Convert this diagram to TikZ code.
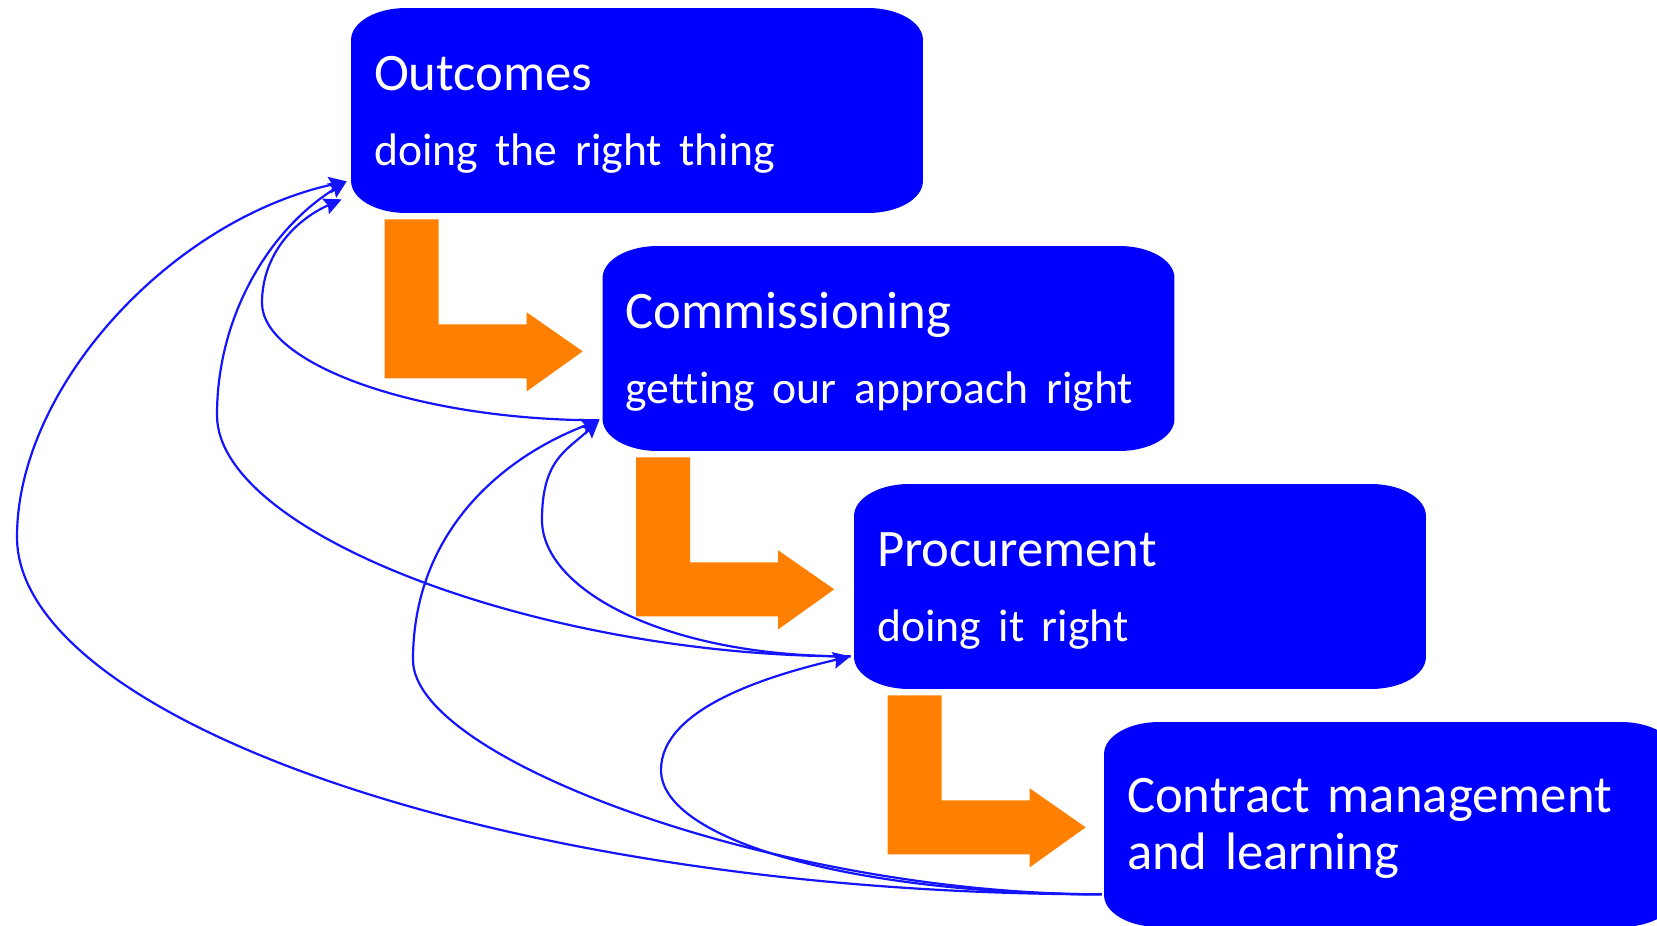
\documentclass[tikz,border=0pt]{standalone}
\usepackage{fontspec}
\setmainfont{Carlito}[Ligatures=NoCommon]
\usetikzlibrary{arrows.meta}
\definecolor{boxblue}{RGB}{0,0,255}
\definecolor{linkblue}{RGB}{20,20,255}
\definecolor{turnorange}{RGB}{255,128,0}
\newcommand\subline{\fontsize{26}{42.7}\selectfont}
\newcommand\topline{\rule{0pt}{24pt}}
\tikzset{
  stagebox/.style={rectangle, minimum width=11.44cm, minimum height=4.1cm,
    text width=10.52cm, inner xsep=0.46cm, inner ysep=0pt, align=left,
    text=white, font=\fontsize{30}{42.7}\selectfont,
    path picture={
      \fill[boxblue]
        ([yshift=-0.64cm]path picture bounding box.north west)
        arc[start angle=180,end angle=90,x radius=1.1cm,y radius=0.64cm]
        -- ([xshift=-1.1cm]path picture bounding box.north east)
        arc[start angle=90,end angle=0,x radius=1.1cm,y radius=0.64cm]
        -- ([yshift=0.64cm]path picture bounding box.south east)
        arc[start angle=0,end angle=-90,x radius=1.1cm,y radius=0.64cm]
        -- ([xshift=1.1cm]path picture bounding box.south west)
        arc[start angle=270,end angle=180,x radius=1.1cm,y radius=0.64cm]
        -- cycle;}},
  turnarrow/.style={fill=turnorange},
  feedback/.style={draw=linkblue, line width=1.25pt,
    -{Stealth[length=10pt,width=9.5pt,inset=1.5pt]}},
}

\begin{document}
\begin{tikzpicture}[x=0.02cm,y=0.02cm]
\useasboundingbox (0,0) rectangle (1657,-926);
\clip (0,0) rectangle (1657,-926);

% the four stages
\node[stagebox] (out) at (637,-110.5) {\topline Outcomes\\{\subline doing the right thing}};
\node[stagebox] (com) at (888.5,-348.5) {\topline Commissioning\\{\subline getting our approach right}};
\node[stagebox] (pro) at (1140,-586.5) {\topline Procurement\\{\subline doing it right}};
\node[stagebox,font=\fontsize{30}{32.4}\selectfont] (con) at (1390,-824.5) {\topline Contract management\\and learning};

% orange turn arrows between stages
\foreach \b in {out,com,pro}
  \fill[turnarrow,shift={(\b.south west)}] (34,-6) -- (88,-6) -- (88,-111) -- (176,-111)
    -- (176,-99) -- (232,-138) -- (176,-178) -- (176,-165) -- (34,-165) -- cycle;

% ports on the left sides
\coordinate (out-a) at ([shift={(-4,32)}]out.south west);
\coordinate (out-b) at ([shift={(-9,14)}]out.south west);
\coordinate (com-a) at ([shift={(-3,31)}]com.south west);
\coordinate (pro-a) at ([shift={(-3,33)}]pro.south west);
\coordinate (con-a) at ([shift={(-2,33)}]con.south west);

% feedback loops
\draw[feedback] (con-a) .. controls (502,-894) and (17,-717) .. (17,-537)
  .. controls (17,-387) and (171,-220) .. (out-a);
\draw[feedback] (con-a) .. controls (782,-894) and (413,-760) .. (413,-660)
  .. controls (413,-530) and (505,-456) .. (com-a);
\draw[feedback] (con-a) .. controls (852,-894) and (661,-840) .. (661,-770)
  .. controls (661,-710) and (762,-677) .. (pro-a);
\draw[feedback] (pro-a) .. controls (546,-657) and (217,-535) .. (217,-415)
  .. controls (217,-315) and (270,-229) .. (out-a);
\draw[feedback] (pro-a) .. controls (666,-657) and (542,-590) .. (542,-520)
  .. controls (542,-460) and (566,-451) .. (com-a);
\draw[feedback] (com-a) .. controls (414,-420) and (262,-363) .. (262,-303)
  .. controls (262,-253) and (297,-219) .. (out-b);
\end{tikzpicture}
\end{document}
